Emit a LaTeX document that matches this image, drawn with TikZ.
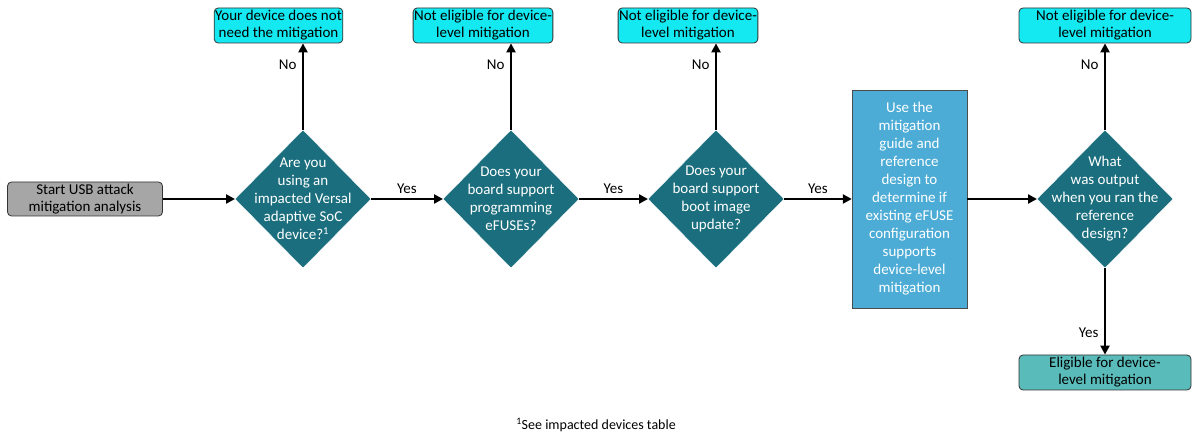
\documentclass[tikz,border=0pt]{standalone}
\usepackage{fontspec}
\setmainfont{Carlito}
\usetikzlibrary{shapes.geometric,arrows.meta}
\definecolor{cyanb}{RGB}{20,232,240}
\definecolor{dteal}{RGB}{26,110,125}
\definecolor{lblue}{RGB}{76,172,214}
\definecolor{lteal}{RGB}{90,188,186}
\definecolor{gbox}{RGB}{166,166,166}
\begin{document}
\begin{tikzpicture}[x=1pt,y=-1pt,
  box/.style={draw=black!80,line width=0.8pt,rounded corners=4pt,align=center,font=\fontsize{15}{17}\selectfont,inner sep=1pt},
  dia/.style={diamond,draw=white,fill=dteal,minimum width=136pt,minimum height=138pt,inner sep=0pt,outer sep=0pt},
  dtx/.style={text=white,align=center,font=\fontsize{15}{18}\selectfont},
  arr/.style={-{Triangle[length=9pt,width=9pt]},line width=2.4pt},
  lab/.style={font=\fontsize{15}{17}\selectfont}]
\useasboundingbox (0,0) rectangle (1200,446);
\node[box,fill=gbox,minimum width=155pt,minimum height=34pt] (s) at (85,199) {Start USB attack\\mitigation analysis};
\node[dia] (d1) at (303,199) {};
\node[dtx] (x1) at (303,199) {Are you\\using an\\impacted Versal\\adaptive SoC\\device?\textsuperscript{1}};
\node[dia] (d2) at (511,199) {};
\node[dtx] (x2) at (511,199) {Does your\\board support\\programming\\eFUSEs?};
\node[dia] (d3) at (716,199) {};
\node[dtx] (x3) at (716,199) {Does your\\board support\\boot image\\update?};
\node[draw=black!70,fill=lblue,text=white,align=center,minimum width=115pt,minimum height=218pt,inner sep=0pt,font=\fontsize{15}{18}\selectfont] (r) at (909.5,199) {Use the\\mitigation\\guide and\\reference\\design to\\determine if\\existing eFUSE\\configuration\\supports\\device-level\\mitigation};
\node[dia] (d4) at (1105,199) {};
\node[dtx] (x4) at (1105,199) {What\\was output\\when you ran the\\reference\\design?};
\node[box,fill=cyanb,minimum width=121pt,minimum height=35pt] (t1) at (278.5,25.5) {Your device does not\\need the mitigation};
\node[box,fill=cyanb,minimum width=120pt,minimum height=35pt] (t2) at (483,25.5) {Not eligible for device-\\level mitigation};
\node[box,fill=cyanb,minimum width=120pt,minimum height=35pt] (t3) at (688,25.5) {Not eligible for device-\\level mitigation};
\node[box,fill=cyanb,minimum width=172pt,minimum height=35pt] (t4) at (1105,25.5) {Not eligible for device-\\level mitigation};
\node[box,fill=lteal,minimum width=172pt,minimum height=35pt] (b4) at (1105,372.5) {Eligible for device-\\level mitigation};
\draw[arr] (s.east) -- (d1.west);
\draw[arr] (d1.east) -- node[lab,above=1pt] {Yes} (d2.west);
\draw[arr] (d2.east) -- node[lab,above=1pt] {Yes} (d3.west);
\draw[arr] (d3.east) -- node[lab,above=1pt] {Yes} (r.west);
\draw[arr] (r.east) -- (d4.west);
\draw[arr] (d1.north) -- node[lab,left=2pt,pos=0.75] {No} (d1.north |- t1.south);
\draw[arr] (d2.north) -- node[lab,left=2pt,pos=0.75] {No} (d2.north |- t2.south);
\draw[arr] (d3.north) -- node[lab,left=2pt,pos=0.75] {No} (d3.north |- t3.south);
\draw[arr] (d4.north) -- node[lab,left=2pt,pos=0.75] {No} (t4.south);
\draw[arr] (d4.south) -- node[lab,left=2pt,pos=0.75] {Yes} (b4.north);
\node[font=\fontsize{14}{16}\selectfont] (fn) at (596,425) {\textsuperscript{1}See impacted devices table};
\end{tikzpicture}
\end{document}
